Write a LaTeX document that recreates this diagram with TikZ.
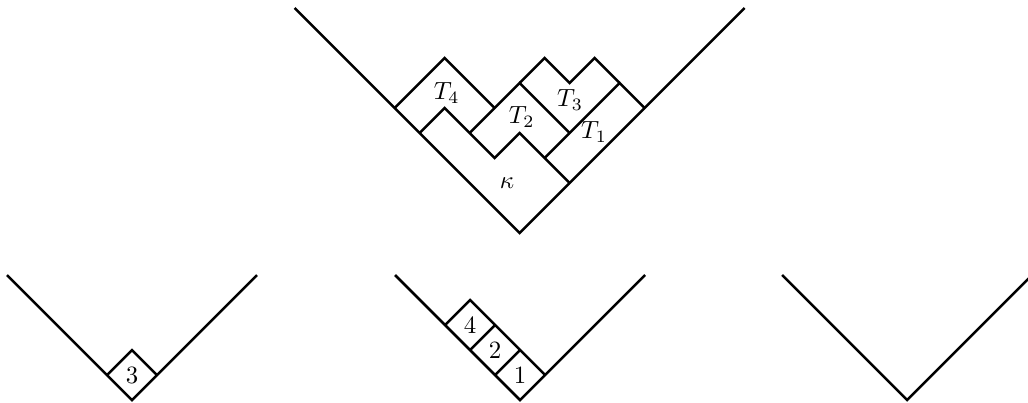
\documentclass[tikz,border=0pt]{standalone}
\begin{document}
\begin{tikzpicture}[
    wall/.style={line width=1pt},
    cut/.style={line width=1pt},
    lbl/.style={inner sep=1pt}]
  \useasboundingbox (0,0) rectangle (14.537,-5.685);
  %% Top: kappa with the strips T1..T4
  \begin{scope}[shift={(7.347,-3.295)},rotate=45,scale=0.5]
    \draw[wall] (0,9) -- (0,0) -- (9,0);
    \draw[cut] (2,0) -- (2,2) -- (1,2) -- (1,4) -- (0,4);
    \draw[cut] (2,1) -- (5,1) -- (5,0);
    \draw[cut] (1,3) -- (3,3) -- (3,1);
    \draw[cut] (3,3) -- (4,3) -- (4,2) -- (5,2) -- (5,1);
    \draw[cut] (0,5) -- (2,5) -- (2,3);
    \node[lbl] (kappa) at (0.75,1.25) {$\kappa$};
    \node[lbl] (T1) at (3.51,0.53) {$T_1$};
    \node[lbl] (T2) at (2.37,2.28) {$T_2$};
    \node[lbl] (T3) at (3.67,1.65) {$T_3$};
    \node[lbl] (T4) at (1.34,4.25) {$T_4$};
  \end{scope}
  %% Bottom left: one box
  \begin{scope}[shift={(1.867,-5.657)},rotate=45,scale=0.5]
    \draw[wall] (0,5) -- (0,0) -- (5,0);
    \draw[cut] (1,0) -- (1,1) -- (0,1);
    \node[lbl] (b3) at (0.5,0.5) {3};
  \end{scope}
  %% Bottom middle: column of three boxes
  \begin{scope}[shift={(7.354,-5.657)},rotate=45,scale=0.5]
    \draw[wall] (0,5) -- (0,0) -- (5,0);
    \draw[cut] (1,0) -- (1,3) -- (0,3);
    \draw[cut] (0,1) -- (1,1);
    \draw[cut] (0,2) -- (1,2);
    \node[lbl] (b1) at (0.5,0.5) {1};
    \node[lbl] (b2) at (0.5,1.5) {2};
    \node[lbl] (b4) at (0.5,2.5) {4};
  \end{scope}
  %% Bottom right: empty
  \begin{scope}[shift={(12.827,-5.657)},rotate=45,scale=0.5]
    \draw[wall] (0,5) -- (0,0) -- (5,0);
  \end{scope}
\end{tikzpicture}
\end{document}
